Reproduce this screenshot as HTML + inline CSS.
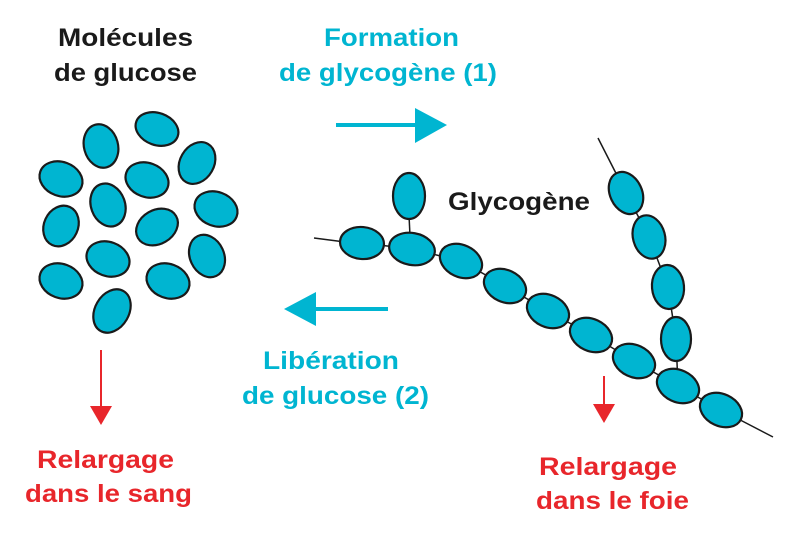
<!DOCTYPE html>
<html><head><style>
html,body{margin:0;padding:0;background:#fff;}
svg{display:block;}
text{font-family:"Liberation Sans",sans-serif;font-weight:bold;font-size:25px;}
</style></head><body>
<svg width="804" height="539" viewBox="0 0 804 539" xmlns="http://www.w3.org/2000/svg">
<rect width="804" height="539" fill="#fff"/>
<g fill="#1a1a1a">
<text x="58" y="46" textLength="135" lengthAdjust="spacingAndGlyphs">Molécules</text>
<text x="54" y="81" textLength="143" lengthAdjust="spacingAndGlyphs">de glucose</text>
<text x="448" y="210" textLength="142" lengthAdjust="spacingAndGlyphs">Glycogène</text>
</g>
<g fill="#00b5d1">
<text x="324" y="46" textLength="135" lengthAdjust="spacingAndGlyphs">Formation</text>
<text x="279" y="81" textLength="218" lengthAdjust="spacingAndGlyphs">de glycogène (1)</text>
<text x="263" y="369" textLength="136" lengthAdjust="spacingAndGlyphs">Libération</text>
<text x="242" y="404" textLength="187" lengthAdjust="spacingAndGlyphs">de glucose (2)</text>
</g>
<g fill="#e8262b">
<text x="37" y="468" textLength="137" lengthAdjust="spacingAndGlyphs">Relargage</text>
<text x="25" y="502" textLength="167" lengthAdjust="spacingAndGlyphs">dans le sang</text>
<text x="539" y="475" textLength="138" lengthAdjust="spacingAndGlyphs">Relargage</text>
<text x="536" y="509" textLength="153" lengthAdjust="spacingAndGlyphs">dans le foie</text>
</g>
<line x1="336" y1="125" x2="418" y2="125" stroke="#00b5d1" stroke-width="4"/>
<polygon points="415,108 447,125 415,143" fill="#00b5d1"/>
<line x1="388" y1="309" x2="312" y2="309" stroke="#00b5d1" stroke-width="4"/>
<polygon points="316,292 284,309 316,326" fill="#00b5d1"/>
<line x1="101" y1="350" x2="101" y2="408" stroke="#e8262b" stroke-width="2"/>
<polygon points="90,406 112,406 101,425" fill="#e8262b"/>
<line x1="604" y1="376" x2="604" y2="406" stroke="#e8262b" stroke-width="2"/>
<polygon points="593,404 615,404 604,423" fill="#e8262b"/>
<g stroke="#1a1a1a" stroke-width="1.5" fill="none">
<line x1="314" y1="238" x2="345" y2="242"/>
<line x1="409" y1="215" x2="410" y2="236"/>
<polyline points="362,243 412,249 461,261 505,286 548,311 591,335 634,361 678,386 721,410 773,437"/>
<polyline points="598,138 626,193 649,237 668,287 676,339 678,386"/>
</g>
<g fill="#00b5d1" stroke="#1a1a1a" stroke-width="2.2">
<ellipse cx="157" cy="129" rx="22" ry="16" transform="rotate(20 157 129)"/>
<ellipse cx="101" cy="146" rx="17" ry="22" transform="rotate(-15 101 146)"/>
<ellipse cx="197" cy="163" rx="17" ry="22" transform="rotate(30 197 163)"/>
<ellipse cx="61" cy="179" rx="22" ry="17" transform="rotate(20 61 179)"/>
<ellipse cx="147" cy="180" rx="22" ry="17" transform="rotate(20 147 180)"/>
<ellipse cx="108" cy="205" rx="17" ry="22" transform="rotate(-20 108 205)"/>
<ellipse cx="216" cy="209" rx="22" ry="17" transform="rotate(20 216 209)"/>
<ellipse cx="61" cy="226" rx="17" ry="21" transform="rotate(25 61 226)"/>
<ellipse cx="157" cy="227" rx="22" ry="17" transform="rotate(-30 157 227)"/>
<ellipse cx="108" cy="259" rx="22" ry="17" transform="rotate(20 108 259)"/>
<ellipse cx="207" cy="256" rx="17" ry="22" transform="rotate(-25 207 256)"/>
<ellipse cx="61" cy="281" rx="22" ry="17" transform="rotate(20 61 281)"/>
<ellipse cx="168" cy="281" rx="22" ry="17" transform="rotate(20 168 281)"/>
<ellipse cx="112" cy="311" rx="17" ry="23" transform="rotate(30 112 311)"/>
<ellipse cx="409" cy="196" rx="16" ry="23"/>
<ellipse cx="362" cy="243" rx="22" ry="16" transform="rotate(5 362 243)"/>
<ellipse cx="412" cy="249" rx="23" ry="16" transform="rotate(10 412 249)"/>
<ellipse cx="461" cy="261" rx="22" ry="16" transform="rotate(25 461 261)"/>
<ellipse cx="505" cy="286" rx="22" ry="16" transform="rotate(25 505 286)"/>
<ellipse cx="548" cy="311" rx="22" ry="16" transform="rotate(25 548 311)"/>
<ellipse cx="591" cy="335" rx="22" ry="16" transform="rotate(25 591 335)"/>
<ellipse cx="634" cy="361" rx="22" ry="16" transform="rotate(25 634 361)"/>
<ellipse cx="678" cy="386" rx="22" ry="16" transform="rotate(25 678 386)"/>
<ellipse cx="721" cy="410" rx="22" ry="16" transform="rotate(25 721 410)"/>
<ellipse cx="626" cy="193" rx="16" ry="22" transform="rotate(-25 626 193)"/>
<ellipse cx="649" cy="237" rx="16" ry="22" transform="rotate(-15 649 237)"/>
<ellipse cx="668" cy="287" rx="16" ry="22" transform="rotate(-5 668 287)"/>
<ellipse cx="676" cy="339" rx="15" ry="22"/>
</g>
</svg>
</body></html>
